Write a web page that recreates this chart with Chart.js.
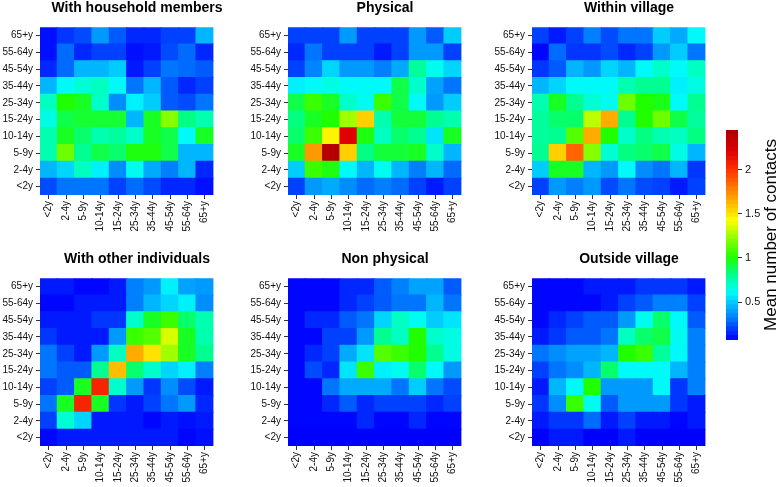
<!DOCTYPE html>
<html>
<head>
<meta charset="utf-8">
<script src="https://cdn.jsdelivr.net/npm/chart.js@4.4.0/dist/chart.umd.min.js"></script>
<style>
  body { margin: 0; background: #fff; }
  #wrap { position: relative; width: 778px; height: 487px; overflow: hidden; background: #fff; }
  canvas { position: absolute; }
</style>
</head>
<body>
<div id="wrap">
  <canvas id="c1" width="274" height="245" style="left:0px;top:0px"></canvas>
  <canvas id="c2" width="274" height="245" style="left:248px;top:0px"></canvas>
  <canvas id="c3" width="274" height="245" style="left:492px;top:0px"></canvas>
  <canvas id="c4" width="274" height="236" style="left:0px;top:251px"></canvas>
  <canvas id="c5" width="274" height="236" style="left:248px;top:251px"></canvas>
  <canvas id="c6" width="274" height="236" style="left:492px;top:251px"></canvas>
  <canvas id="bar" width="78" height="280" style="left:700px;top:100px"></canvas>
</div>
<script>
  // age groups, bottom to top on y and left to right on x
  const ageGroups = ['<2y', '2-4y', '5-9y', '10-14y', '15-24y', '25-34y', '35-44y', '45-54y', '55-64y', '65+y'];

  // mean contacts, rows written as drawn: 65+y first, <2y last
  const household = [
    [0.10, 0.18, 0.22, 0.38, 0.25, 0.15, 0.15, 0.20, 0.20, 0.45],
    [0.10, 0.28, 0.15, 0.20, 0.20, 0.10, 0.12, 0.22, 0.28, 0.15],
    [0.15, 0.28, 0.45, 0.45, 0.50, 0.12, 0.20, 0.30, 0.28, 0.25],
    [0.45, 0.60, 0.68, 0.72, 0.60, 0.30, 0.45, 0.25, 0.15, 0.20],
    [0.72, 1.00, 0.95, 0.70, 0.35, 0.58, 0.50, 0.25, 0.22, 0.30],
    [0.65, 0.90, 0.93, 0.93, 0.93, 0.45, 0.95, 1.20, 0.82, 0.75],
    [0.75, 0.95, 0.85, 0.75, 0.78, 0.70, 0.95, 0.90, 0.60, 0.95],
    [0.75, 1.15, 0.80, 0.90, 0.85, 0.98, 0.98, 0.90, 0.45, 0.45],
    [0.45, 0.52, 0.72, 0.58, 0.35, 0.62, 0.42, 0.32, 0.45, 0.15],
    [0.22, 0.30, 0.30, 0.30, 0.20, 0.28, 0.22, 0.15, 0.15, 0.10]
  ];
  const physical = [
    [0.20, 0.20, 0.20, 0.38, 0.20, 0.20, 0.20, 0.38, 0.25, 0.50],
    [0.15, 0.30, 0.20, 0.20, 0.20, 0.12, 0.20, 0.38, 0.38, 0.20],
    [0.20, 0.33, 0.52, 0.38, 0.38, 0.32, 0.42, 0.78, 0.62, 0.52],
    [0.58, 0.60, 0.65, 0.60, 0.60, 0.60, 0.90, 0.70, 0.40, 0.30],
    [0.90, 1.05, 0.95, 0.70, 0.62, 1.05, 0.90, 0.60, 0.38, 0.50],
    [0.82, 0.95, 1.00, 1.25, 1.55, 0.75, 0.92, 0.92, 0.80, 0.75],
    [0.85, 1.05, 1.45, 2.20, 0.98, 0.72, 0.85, 0.80, 0.55, 0.95],
    [0.95, 1.70, 2.40, 1.55, 0.82, 0.92, 0.92, 0.95, 0.70, 0.45],
    [0.50, 1.05, 0.98, 0.60, 0.45, 0.62, 0.45, 0.32, 0.45, 0.28],
    [0.20, 0.38, 0.42, 0.35, 0.28, 0.32, 0.28, 0.20, 0.12, 0.20]
  ];
  const withinVillage = [
    [0.20, 0.12, 0.20, 0.32, 0.22, 0.30, 0.30, 0.50, 0.42, 0.60],
    [0.08, 0.28, 0.18, 0.18, 0.22, 0.15, 0.20, 0.38, 0.50, 0.30],
    [0.18, 0.25, 0.45, 0.38, 0.52, 0.45, 0.60, 0.70, 0.60, 0.72],
    [0.45, 0.52, 0.60, 0.60, 0.60, 0.75, 0.80, 0.80, 0.58, 0.65],
    [0.75, 0.95, 0.80, 0.68, 0.62, 1.15, 1.00, 0.97, 0.60, 0.80],
    [0.78, 0.85, 0.85, 1.30, 1.65, 0.80, 1.00, 1.15, 0.90, 0.78],
    [0.78, 0.80, 1.10, 1.65, 1.00, 0.70, 0.82, 0.75, 0.72, 0.82],
    [0.80, 1.55, 1.85, 1.20, 0.68, 0.82, 0.85, 0.90, 0.65, 0.45],
    [0.50, 0.95, 0.95, 0.45, 0.38, 0.60, 0.35, 0.30, 0.45, 0.18],
    [0.20, 0.38, 0.32, 0.38, 0.22, 0.30, 0.22, 0.20, 0.12, 0.20]
  ];
  const otherIndividuals = [
    [0.12, 0.12, 0.08, 0.08, 0.12, 0.32, 0.38, 0.58, 0.40, 0.38],
    [0.08, 0.08, 0.12, 0.12, 0.12, 0.32, 0.45, 0.52, 0.58, 0.35],
    [0.12, 0.12, 0.12, 0.18, 0.18, 0.70, 0.95, 1.05, 0.85, 0.75],
    [0.18, 0.12, 0.12, 0.12, 0.38, 1.05, 1.10, 1.35, 0.95, 0.75],
    [0.30, 0.20, 0.12, 0.38, 0.72, 1.65, 1.50, 1.25, 0.95, 0.80],
    [0.30, 0.25, 0.25, 0.80, 1.60, 0.85, 0.70, 0.52, 0.58, 0.32],
    [0.20, 0.25, 0.95, 2.05, 0.70, 0.38, 0.18, 0.35, 0.22, 0.12],
    [0.30, 0.95, 2.05, 0.95, 0.18, 0.12, 0.20, 0.30, 0.38, 0.15],
    [0.20, 0.68, 0.52, 0.12, 0.12, 0.12, 0.08, 0.12, 0.10, 0.12],
    [0.08, 0.12, 0.12, 0.12, 0.12, 0.12, 0.12, 0.12, 0.08, 0.10]
  ];
  const nonPhysical = [
    [0.08, 0.08, 0.08, 0.15, 0.15, 0.25, 0.32, 0.40, 0.40, 0.25],
    [0.08, 0.08, 0.08, 0.15, 0.20, 0.25, 0.30, 0.30, 0.45, 0.30],
    [0.08, 0.15, 0.15, 0.25, 0.30, 0.52, 0.72, 0.62, 0.50, 0.55],
    [0.08, 0.08, 0.20, 0.20, 0.38, 0.80, 0.72, 1.00, 0.70, 0.65],
    [0.08, 0.15, 0.20, 0.42, 0.55, 1.10, 1.05, 1.00, 0.80, 0.65],
    [0.08, 0.22, 0.15, 0.55, 1.05, 0.58, 0.62, 0.85, 0.60, 0.38],
    [0.08, 0.08, 0.30, 0.42, 0.42, 0.42, 0.30, 0.50, 0.30, 0.22],
    [0.08, 0.08, 0.15, 0.25, 0.15, 0.20, 0.20, 0.20, 0.15, 0.20],
    [0.08, 0.08, 0.08, 0.08, 0.15, 0.08, 0.08, 0.15, 0.08, 0.08],
    [0.07, 0.07, 0.07, 0.07, 0.07, 0.07, 0.07, 0.07, 0.07, 0.07]
  ];
  const outsideVillage = [
    [0.08, 0.08, 0.08, 0.12, 0.12, 0.12, 0.18, 0.18, 0.18, 0.12],
    [0.08, 0.08, 0.08, 0.08, 0.12, 0.20, 0.25, 0.32, 0.32, 0.20],
    [0.08, 0.15, 0.20, 0.25, 0.25, 0.38, 0.62, 0.85, 0.60, 0.25],
    [0.12, 0.18, 0.25, 0.25, 0.30, 0.72, 0.85, 0.90, 0.62, 0.32],
    [0.30, 0.35, 0.40, 0.40, 0.45, 1.00, 1.05, 0.78, 0.60, 0.32],
    [0.20, 0.30, 0.35, 0.45, 0.85, 0.60, 0.60, 0.60, 0.45, 0.32],
    [0.12, 0.45, 0.60, 1.00, 0.38, 0.38, 0.38, 0.60, 0.18, 0.32],
    [0.18, 0.35, 1.05, 0.62, 0.25, 0.38, 0.38, 0.38, 0.18, 0.12],
    [0.12, 0.18, 0.18, 0.28, 0.12, 0.20, 0.12, 0.12, 0.08, 0.12],
    [0.07, 0.12, 0.12, 0.07, 0.07, 0.12, 0.07, 0.07, 0.07, 0.07]
  ];

  const barTicks = [0.5, 1, 1.5, 2];
  const barMin = 0.07;
  const barMax = 2.45;

  // blue -> cyan -> green -> yellow -> red palette
  const colourStops = [
    [0.07, [0, 0, 255]],
    [0.20, [0, 64, 255]],
    [0.32, [0, 128, 255]],
    [0.47, [0, 192, 255]],
    [0.60, [0, 250, 250]],
    [0.72, [0, 255, 192]],
    [0.80, [0, 255, 144]],
    [1.00, [32, 255, 0]],
    [1.25, [160, 255, 0]],
    [1.42, [255, 255, 0]],
    [1.68, [255, 160, 0]],
    [2.00, [255, 48, 0]],
    [2.20, [224, 0, 0]],
    [2.45, [170, 0, 0]]
  ];

  function colourFor(v) {
    if (v <= colourStops[0][0]) return 'rgb(' + colourStops[0][1].join(',') + ')';
    for (let i = 1; i < colourStops.length; i++) {
      const [v1, c1] = colourStops[i];
      const [v0, c0] = colourStops[i - 1];
      if (v <= v1) {
        const t = (v - v0) / (v1 - v0);
        const c = c0.map((x, k) => Math.round(x + (c1[k] - x) * t));
        return 'rgb(' + c.join(',') + ')';
      }
    }
    return 'rgb(' + colourStops[colourStops.length - 1][1].join(',') + ')';
  }

  Chart.defaults.font.family = "'Liberation Sans', Arial, sans-serif";
  Chart.defaults.color = '#000';

  function heatmap(id, title, grid, xHeight) {
    const datasets = ageGroups.map((age, r) => ({
      label: age,
      data: ageGroups.map(() => 1),
      backgroundColor: ageGroups.map((_, c) => colourFor(grid[9 - r][c])),
      borderWidth: 0,
      barPercentage: 1,
      categoryPercentage: 1,
      inflateAmount: 0.6
    }));

    return new Chart(document.getElementById(id), {
      type: 'bar',
      data: { labels: ageGroups, datasets: datasets },
      options: {
        responsive: false,
        animation: false,
        events: [],
        layout: { padding: 0 },
        plugins: {
          legend: { display: false },
          tooltip: { enabled: false },
          title: {
            display: true,
            text: title,
            font: { size: 14, weight: 'bold' },
            color: '#000',
            padding: { top: 0, bottom: 10.5 }
          }
        },
        scales: {
          x: {
            stacked: true,
            grid: { drawOnChartArea: false, offset: false, tickLength: 4, color: '#333' },
            border: { display: false },
            ticks: { font: { size: 10 }, color: '#111', minRotation: 90, maxRotation: 90, autoSkip: false, padding: 2 },
            afterFit: s => { s.height = xHeight; }
          },
          y: {
            stacked: true,
            min: 0,
            max: 10,
            afterBuildTicks: s => { s.ticks = ageGroups.map((_, i) => ({ value: i + 0.5 })); },
            grid: { drawOnChartArea: false, tickLength: 4, color: '#333' },
            border: { display: false },
            ticks: { font: { size: 10 }, color: '#111', autoSkip: false, padding: 3, callback: (v, i) => ageGroups[i] },
            afterFit: s => { s.width = 40; }
          },
          spacer: {
            type: 'linear',
            position: 'right',
            grid: { display: false },
            border: { display: false },
            ticks: { display: false },
            afterFit: s => { s.width = 60.6; }
          }
        }
      }
    });
  }

  heatmap('c1', 'With household members', household, 50);
  heatmap('c2', 'Physical', physical, 50);
  heatmap('c3', 'Within village', withinVillage, 50);
  heatmap('c4', 'With other individuals', otherIndividuals, 41);
  heatmap('c5', 'Non physical', nonPhysical, 41);
  heatmap('c6', 'Outside village', outsideVillage, 41);

  // colour key
  const nBands = 48;
  const bandSets = [];
  for (let i = 0; i < nBands; i++) {
    const lo = barMin + (barMax - barMin) * i / nBands;
    const hi = barMin + (barMax - barMin) * (i + 1) / nBands;
    bandSets.push({
      data: [[lo, hi]],
      backgroundColor: colourFor((lo + hi) / 2),
      borderWidth: 0,
      grouped: false,
      barPercentage: 1,
      categoryPercentage: 1,
      inflateAmount: 0.5
    });
  }

  const keyTitle = {
    id: 'keyTitle',
    afterDraw(chart) {
      const ctx = chart.ctx;
      const a = chart.chartArea;
      ctx.save();
      ctx.translate(71, (a.top + a.bottom) / 2);
      ctx.rotate(-Math.PI / 2);
      ctx.font = "17px 'Liberation Sans', Arial, sans-serif";
      ctx.fillStyle = '#000';
      ctx.textAlign = 'center';
      ctx.textBaseline = 'middle';
      ctx.fillText('Mean number of contacts', 0, 0);
      ctx.restore();
    }
  };

  new Chart(document.getElementById('bar'), {
    type: 'bar',
    data: { labels: [''], datasets: bandSets },
    options: {
      responsive: false,
      animation: false,
      events: [],
      layout: { padding: { left: 26, top: 30, bottom: 40, right: 0 } },
      plugins: { legend: { display: false }, tooltip: { enabled: false } },
      scales: {
        x: { display: false },
        y: {
          position: 'right',
          min: barMin,
          max: barMax,
          afterBuildTicks: s => { s.ticks = barTicks.map(v => ({ value: v })); },
          grid: { drawOnChartArea: false, tickLength: 4, color: '#333' },
          border: { display: false },
          ticks: { font: { size: 11 }, color: '#111', padding: 3, callback: v => String(v) },
          afterFit: s => { s.width = 40; }
        }
      }
    },
    plugins: [keyTitle]
  });
</script>
</body>
</html>
